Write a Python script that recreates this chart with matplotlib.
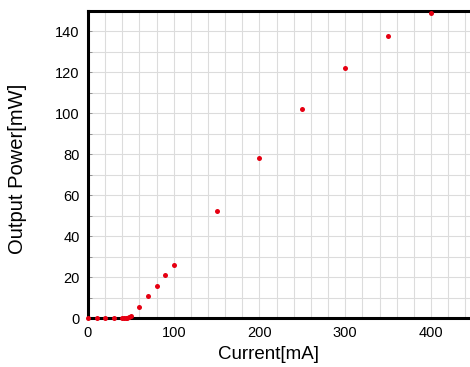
import matplotlib
matplotlib.use("Agg")
import matplotlib.pyplot as plt
from matplotlib.ticker import MultipleLocator

plt.rcParams['font.family'] = ['Liberation Sans', 'DejaVu Sans']

current_ma = [0, 10, 20, 30, 40, 42, 44, 46, 48, 50, 60, 70, 80, 90, 100,
              150, 200, 250, 300, 350, 400]
power_mw = [0, 0, 0, 0, 0, 0, 0, 0, 0.3, 0.9, 5.6, 10.8, 15.8, 21.0, 26.0,
            52.2, 78.0, 102.0, 122.0, 137.8, 148.8]

W, H = 470, 367
fig = plt.figure(figsize=(W / 100, H / 100), dpi=100)
ax = fig.add_axes([88 / W, 49 / H, (W - 88) / W, (318 - 11) / H])

ax.plot(current_ma, power_mw, 'o', color='#e60012', markersize=3.6,
        markeredgewidth=0, clip_on=False, zorder=5)

ax.set_xlim(0, 445.5)
ax.set_ylim(0, 150)
ax.xaxis.set_major_locator(MultipleLocator(100))
ax.xaxis.set_minor_locator(MultipleLocator(20))
ax.yaxis.set_major_locator(MultipleLocator(20))
ax.yaxis.set_minor_locator(MultipleLocator(10))
ax.grid(which='both', color='#dcdcdc', linewidth=0.8)
ax.set_axisbelow(True)

for side in ('left', 'bottom', 'top'):
    ax.spines[side].set_linewidth(2.2)
    ax.spines[side].set_color('black')
ax.spines['right'].set_visible(False)

ax.tick_params(which='both', direction='in', length=3, width=0.6, colors='#888888',
               labelcolor='black', labelsize=10.5)
ax.tick_params(axis='x', which='both', length=0)
ax.tick_params(axis='y', pad=6)
ax.tick_params(axis='x', pad=6)

ax.set_xlabel('Current[mA]', fontsize=13.5)
ax.xaxis.set_label_coords(0.4725, -0.09)
ax.set_ylabel('Output Power[mW]', fontsize=14.5)
ax.yaxis.set_label_coords(-0.16, 0.485)

fig.savefig('out.png', dpi=100)
